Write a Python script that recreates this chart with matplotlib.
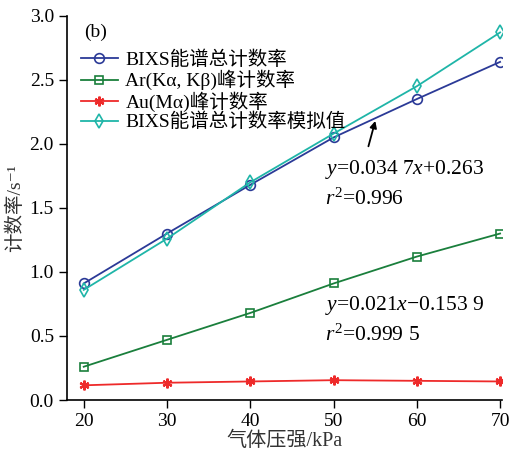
import matplotlib
matplotlib.use('Agg')
import matplotlib.pyplot as plt

plt.rcParams['font.family'] = ['Liberation Serif', 'Noto Sans CJK SC', 'DejaVu Sans']
plt.rcParams['mathtext.fontset'] = 'custom'
plt.rcParams['mathtext.rm'] = 'Liberation Serif'
plt.rcParams['mathtext.it'] = 'Liberation Serif:italic'
plt.rcParams['font.size'] = 12

# ── Data ─────────────────────────────────────────────────────────────
pressure = [20, 30, 40, 50, 60, 70]
bixs_total = [0.91, 1.30, 1.68, 2.05, 2.35, 2.64]
ar_peak = [0.26, 0.47, 0.68, 0.91, 1.12, 1.30]
au_peak = [0.115, 0.135, 0.145, 0.155, 0.150, 0.145]
bixs_sim = [0.86, 1.26, 1.70, 2.08, 2.45, 2.87]

labels = ['BIXS能谱总计数率', 'Ar(Kα, Kβ)峰计数率', 'Au(Mα)峰计数率', 'BIXS能谱总计数率模拟值']

# ── Plot ─────────────────────────────────────────────────────────────
fig = plt.figure(figsize=(5.12, 4.51), dpi=100)
ax = fig.add_axes([0.131, 0.113, 0.849, 0.852])

ax.plot(pressure, bixs_total, color='#2b3a97', lw=1.3, marker='o', ms=7,
        mfc='none', mew=1.2, label=labels[0])
ax.plot(pressure, ar_peak, color='#1a7f3c', lw=1.3, marker='s', ms=5.5,
        mfc='none', mew=1.2, label=labels[1])
ax.plot(pressure, au_peak, color='#ee2a2a', lw=1.3, marker=(6, 2, 0), ms=7,
        mew=1.6, label=labels[2])
ax.plot(pressure, bixs_sim, color='#1fb5a8', lw=1.3, marker='d', ms=7.5,
        mfc='none', mew=1.2, label=labels[3])

ax.set_xlim(18, 70.2)
ax.set_ylim(0, 3.0)
ax.set_xticks(pressure)
ax.set_yticks([0.0, 0.5, 1.0, 1.5, 2.0, 2.5, 3.0])
ax.set_yticklabels(['0.0', '0.5', '1.0', '1.5', '2.0', '2.5', '3.0'])
ax.tick_params(direction='out', length=6, width=1.0, labelsize=14)

for s in ('top', 'right'):
    ax.spines[s].set_visible(False)
for s in ('left', 'bottom'):
    ax.spines[s].set_linewidth(1.2)

ax.set_xlabel('气体压强/kPa', fontsize=14.5, labelpad=1, color='#333333')
ax.set_ylabel('计数率/s⁻¹', fontsize=14, labelpad=4, color='#333333')

leg = ax.legend(loc='upper left', bbox_to_anchor=(0.0, 0.945), frameon=False,
                fontsize=14, handlelength=1.9, handletextpad=0.4,
                labelspacing=0.05, borderaxespad=0.3)

ax.text(0.04, 0.98, '(b)', transform=ax.transAxes, fontsize=14, va='top')

ax.text(49.0, 1.80, r'$y$=0.034 7$x$+0.263', fontsize=15.5, va='center')
ax.text(49.0, 1.57, r'$r^2$=0.996', fontsize=15.5, va='center')
ax.text(49.0, 0.74, r'$y$=0.021$x$−0.153 9', fontsize=15.5, va='center')
ax.text(49.0, 0.51, r'$r^2$=0.999 5', fontsize=15.5, va='center')

ax.annotate('', xy=(55.1, 2.20), xytext=(54.1, 1.96),
            arrowprops=dict(arrowstyle='-|>', color='black', lw=1.3,
                            mutation_scale=10))

fig.savefig('out.png', dpi=100)
